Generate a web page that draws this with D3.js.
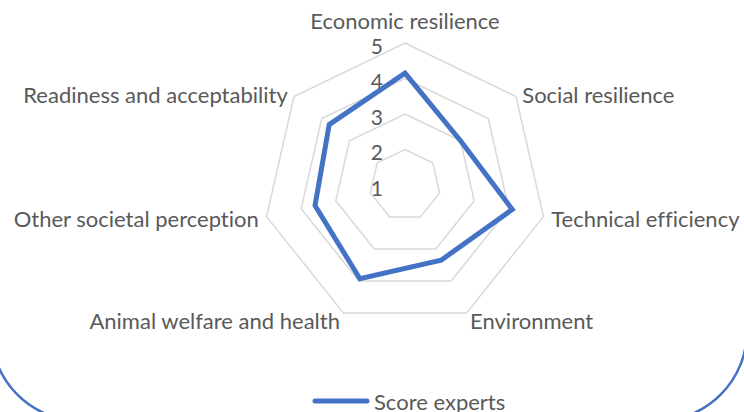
<!DOCTYPE html>
<html>
<head>
<meta charset="utf-8">
<script src="https://cdn.jsdelivr.net/npm/d3@7"></script>
<style>
  html, body { margin: 0; padding: 0; background: #fff; }
  svg { display: block; }
  text { font-family: Lato, "Open Sans", sans-serif; fill: #595959; font-variant-ligatures: none; }
</style>
</head>
<body>
<svg width="744" height="412"></svg>
<script>
// ---- Data
const categories = [
    'Economic resilience',
    'Social resilience',
    'Technical efficiency',
    'Environment',
    'Animal welfare and health',
    'Other societal perception',
    'Readiness and acceptability'
];
const scoreExperts = [4.15, 3.0, 4.1, 3.35, 3.93, 3.6, 3.73];
const levels = [1, 2, 3, 4, 5];
const seriesName = 'Score experts';

const svg = d3.select('svg');
const cx = 405, cy = 185;
const outerR = 142;
const blue = '#4472C4';

// chart area border (rounded, mostly off-canvas)
svg.append('rect')
    .attr('x', -9).attr('y', -300)
    .attr('width', 756).attr('height', 721)
    .attr('rx', 90).attr('ry', 90)
    .style('fill', 'none')
    .style('stroke', blue)
    .style('stroke-width', 2.5);

const r = d3.scaleLinear().domain([1, 5]).range([0, outerR]);
const angle = d3.scalePoint().domain(categories).range([0, 2 * Math.PI * (1 - 1 / categories.length)]);

const g = svg.append('g').attr('transform', `translate(${cx}, ${cy})`);

const radial = d3.lineRadial()
    .angle(d => angle(d.cat))
    .radius(d => r(d.v))
    .curve(d3.curveLinearClosed);

// ---- Grid rings
g.selectAll('.ring')
    .data(levels.slice(1))
    .join('path')
    .attr('class', 'ring')
    .attr('d', lv => radial(categories.map(c => ({ cat: c, v: lv }))))
    .style('fill', 'none')
    .style('stroke', '#d9d9d9')
    .style('stroke-width', 1.5);

// ---- Level labels
g.selectAll('.lvl')
    .data(levels)
    .join('text')
    .attr('class', 'lvl')
    .attr('x', -22)
    .attr('y', d => -r(d) + 2)
    .attr('text-anchor', 'end')
    .attr('dominant-baseline', 'central')
    .style('font-size', '21px')
    .text(d => d);

// ---- Series
g.append('path')
    .attr('d', radial(categories.map((c, i) => ({ cat: c, v: scoreExperts[i] }))))
    .style('fill', 'none')
    .style('stroke', blue)
    .style('stroke-width', 5)
    .style('stroke-linejoin', 'miter');

// ---- Category labels
g.selectAll('.cat')
    .data(categories)
    .join('text')
    .attr('class', 'cat')
    .each(function(c) {
        const a = angle(c);
        const s = Math.sin(a), k = -Math.cos(a);
        const top = Math.abs(s) < 0.1;
        const rr = outerR + 8;
        d3.select(this)
            .attr('x', top ? 0 : rr * s)
            .attr('y', top ? -outerR - 23 : rr * k + (k < 0 ? 3 : 0))
            .attr('text-anchor', top ? 'middle' : (s > 0 ? 'start' : 'end'));
    })
    .attr('dominant-baseline', 'central')
    .style('font-size', '22px')
    .text(d => d);

// ---- Legend
const leg = svg.append('g').attr('transform', 'translate(313, 401)');
leg.append('line')
    .attr('x1', 2).attr('x2', 54)
    .style('stroke', blue)
    .style('stroke-width', 5)
    .style('stroke-linecap', 'round');
leg.append('text')
    .attr('x', 61)
    .attr('y', 0)
    .attr('dominant-baseline', 'central')
    .style('font-size', '22px')
    .text(seriesName);
</script>
</body>
</html>
